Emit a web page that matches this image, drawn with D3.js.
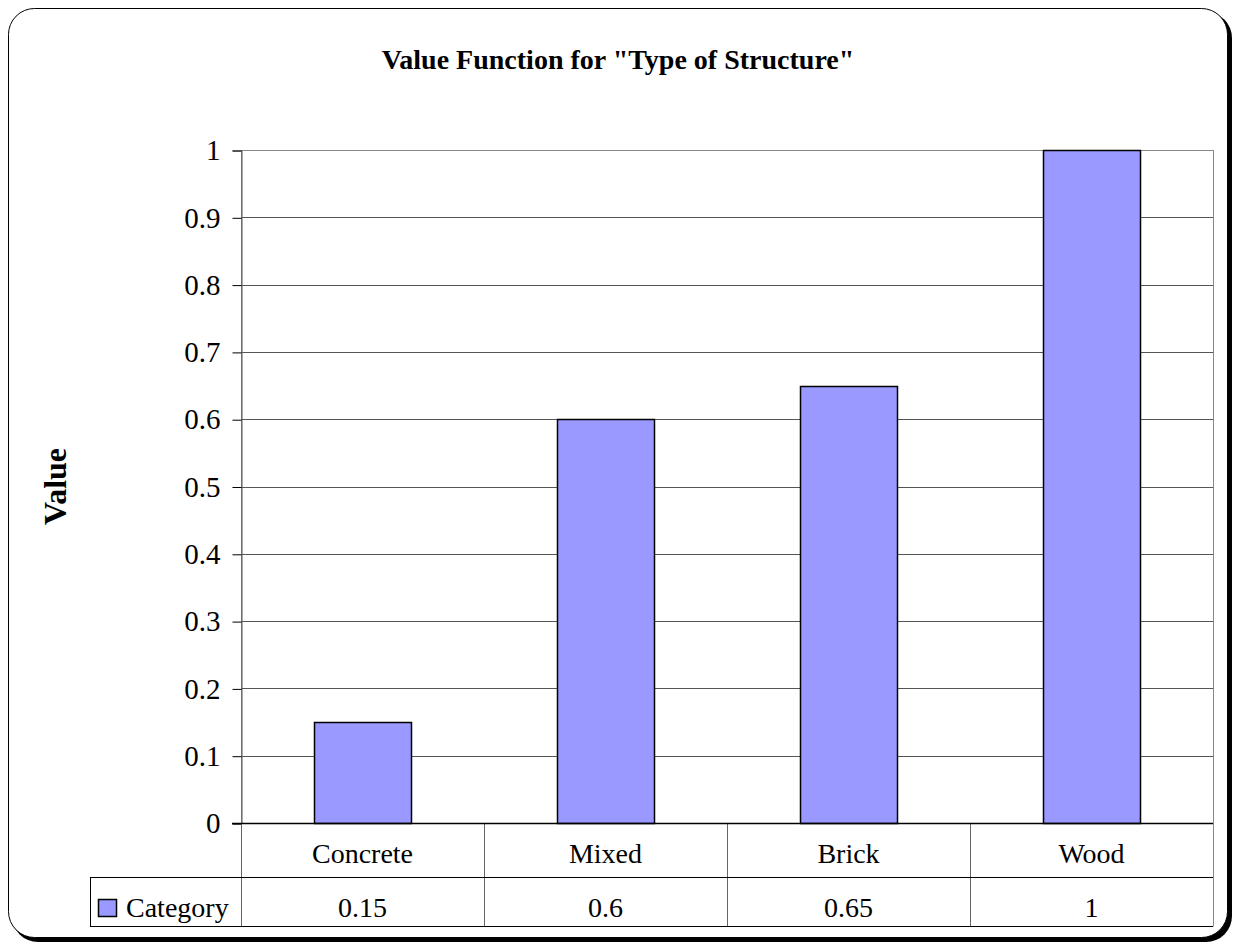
<!DOCTYPE html>
<html lang="en">
<head>
<meta charset="UTF-8">
<title>Value Function for "Type of Structure"</title>
<style>
  body { margin: 0; background: #fff; }
  svg { display: block; font-family: "Liberation Serif", "Times New Roman", serif; }
</style>
</head>
<body>
<script src="https://cdn.jsdelivr.net/npm/d3@7"></script>
<script>
    const categories = ["Concrete", "Mixed", "Brick", "Wood"];
    const values = [0.15, 0.6, 0.65, 1];
    const yTicks = [0, 0.1, 0.2, 0.3, 0.4, 0.5, 0.6, 0.7, 0.8, 0.9, 1];
    const seriesName = "Category";

    const width = 1236, height = 946;
    const margin = {top: 150, right: 23, bottom: 123, left: 241};
    const barColor = "#9999ff";
    const rowH = [54, 49];   // data table rows
    const tableLeft = 90;

    const svg = d3.select("body").append("svg")
        .attr("width", width)
        .attr("height", height);

    // outer frame with shadow on right/bottom
    svg.append("rect")
        .attr("x", 12).attr("y", 12)
        .attr("width", 1220).attr("height", 930)
        .attr("rx", 26).attr("fill", "#000");
    svg.append("rect")
        .attr("x", 8.5).attr("y", 8.5)
        .attr("width", 1219).attr("height", 929)
        .attr("rx", 26)
        .attr("fill", "#fff").attr("stroke", "#000").attr("stroke-width", 1);

    const x = d3.scaleBand()
        .domain(categories)
        .range([margin.left, width - margin.right])
        .paddingInner(0.6).paddingOuter(0.3);

    const xCell = d3.scaleBand()
        .domain(categories)
        .range([margin.left, width - margin.right]);

    const y = d3.scaleLinear()
        .domain([0, 1])
        .range([height - margin.bottom, margin.top]);

    // gridlines
    svg.append("g")
        .selectAll("line")
        .data(yTicks.slice(1))
        .join("line")
        .attr("x1", margin.left).attr("x2", width - margin.right)
        .attr("y1", d => Math.round(y(d)) + 0.5).attr("y2", d => Math.round(y(d)) + 0.5)
        .attr("stroke", "#555");

    // plot area border
    svg.append("rect")
        .attr("x", margin.left + 0.5).attr("y", y(1) + 0.5)
        .attr("width", width - margin.right - margin.left)
        .attr("height", y(0) - y(1))
        .attr("fill", "none").attr("stroke", "#888");

    // bars
    svg.append("g")
        .selectAll("rect")
        .data(values)
        .join("rect")
        .attr("x", (d, i) => Math.round(x(categories[i])) + 0.5)
        .attr("y", d => Math.round(y(d)) + 0.5)
        .attr("width", Math.round(x.bandwidth()))
        .attr("height", d => Math.round(y(0)) - Math.round(y(d)))
        .attr("fill", barColor)
        .attr("stroke", "#000").attr("stroke-width", 1.5);

    // y axis
    const yAxis = svg.append("g")
        .attr("transform", `translate(${margin.left + 0.5},0.5)`)
        .call(d3.axisLeft(y).tickValues(yTicks).tickFormat(d => d3.format("")(+d.toFixed(1))).tickSize(9).tickPadding(12));
    yAxis.select(".domain").attr("stroke", "#555");
    yAxis.selectAll(".tick line").attr("stroke", "#000");
    yAxis.selectAll(".tick text")
        .attr("fill", "#000")
        .style("font-size", "29px")
        .style("font-family", "'Liberation Serif', serif");

    // data table
    const y0 = Math.round(y(0)) + 0.5;
    const r1 = y0 + rowH[0], r2 = r1 + rowH[1];
    const tbl = svg.append("g");

    // vertical cell boundaries
    tbl.selectAll("line.v")
        .data(categories)
        .join("line")
        .attr("class", "v")
        .attr("x1", d => Math.round(xCell(d)) + 0.5).attr("x2", d => Math.round(xCell(d)) + 0.5)
        .attr("y1", y0).attr("y2", r2)
        .attr("stroke", "#666");
    tbl.append("line")
        .attr("x1", width - margin.right + 0.5).attr("x2", width - margin.right + 0.5)
        .attr("y1", y0).attr("y2", r2).attr("stroke", "#888");
    tbl.append("line")
        .attr("x1", tableLeft + 0.5).attr("x2", tableLeft + 0.5)
        .attr("y1", r1).attr("y2", r2).attr("stroke", "#000");
    // horizontal rules
    tbl.append("line").attr("x1", margin.left - 9).attr("x2", width - margin.right)
        .attr("y1", y0).attr("y2", y0).attr("stroke", "#000").attr("stroke-width", 1.5);
    tbl.append("line").attr("x1", tableLeft).attr("x2", width - margin.right)
        .attr("y1", r1).attr("y2", r1).attr("stroke", "#000");
    tbl.append("line").attr("x1", tableLeft).attr("x2", width - margin.right)
        .attr("y1", r2).attr("y2", r2).attr("stroke", "#000");

    tbl.selectAll("text.cat")
        .data(categories)
        .join("text")
        .attr("class", "cat")
        .attr("x", d => xCell(d) + xCell.bandwidth() / 2)
        .attr("y", y0 + 39)
        .attr("text-anchor", "middle")
        .style("font-size", "28px")
        .text(d => d);

    tbl.selectAll("text.val")
        .data(values)
        .join("text")
        .attr("class", "val")
        .attr("x", (d, i) => xCell(categories[i]) + xCell.bandwidth() / 2)
        .attr("y", r1 + 39)
        .attr("text-anchor", "middle")
        .style("font-size", "28px")
        .text(d => d);

    // legend key in table
    tbl.append("rect")
        .attr("x", 98.5).attr("y", r1 + 22)
        .attr("width", 18).attr("height", 17)
        .attr("fill", barColor).attr("stroke", "#000").attr("stroke-width", 1.5);
    tbl.append("text")
        .attr("x", 126).attr("y", r1 + 39)
        .style("font-size", "28px")
        .text(seriesName);

    // title
    svg.append("text")
        .attr("x", 618).attr("y", 69)
        .attr("text-anchor", "middle")
        .style("font-size", "28px").style("font-weight", "bold")
        .text('Value Function for "Type of Structure"');

    // y axis label
    svg.append("text")
        .attr("transform", `translate(66,${(y(0) + y(1)) / 2}) rotate(-90)`)
        .attr("text-anchor", "middle")
        .style("font-size", "32px").style("font-weight", "bold")
        .text("Value");
</script>
</body>
</html>
